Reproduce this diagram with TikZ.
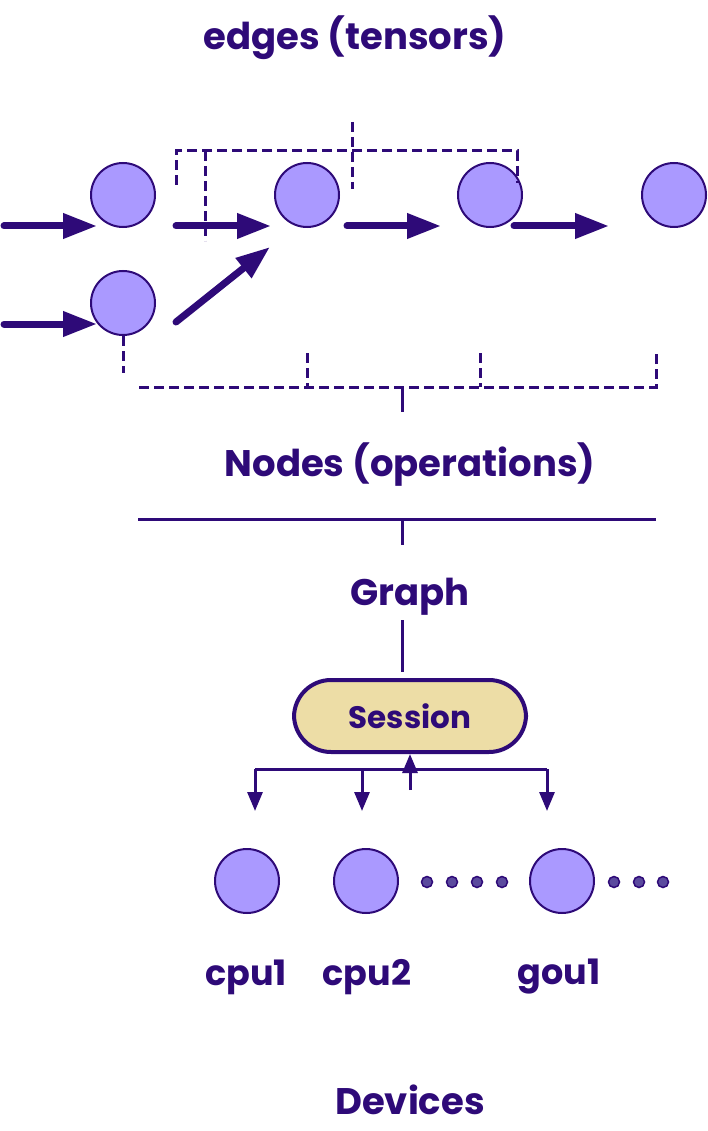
\documentclass[tikz,border=0pt]{standalone}
\usepackage{fontspec}
\setmainfont{Poppins}
\usepackage{tikz}
\usetikzlibrary{arrows.meta}
\definecolor{inkpurple}{HTML}{2E0A78}
\definecolor{opfill}{HTML}{AA99FF}
\definecolor{dotfill}{HTML}{5B4A9E}
\definecolor{sessfill}{HTML}{EDDDA6}

\tikzset{
  op/.style={circle, draw=inkpurple, fill=opfill, line width=2pt, minimum size=64pt, inner sep=0pt},
  more/.style={circle, draw=inkpurple, fill=dotfill, line width=1.5pt, minimum size=11pt, inner sep=0pt},
  flow/.style={inkpurple, line width=7pt, line cap=round, -{Triangle[length=34pt,width=24pt]}},
  feed/.style={inkpurple, line width=3pt, -{Triangle[length=19pt,width=15pt]}},
  bracket/.style={inkpurple, line width=3pt, dash pattern=on 10pt off 5pt},
  tie/.style={inkpurple, line width=3pt},
  lbl/.style={text=inkpurple, font=\bfseries\fontsize{37}{42}\selectfont},
  devlbl/.style={text=inkpurple, font=\bfseries\fontsize{35}{40}\selectfont},
  sessbox/.style={rounded corners=37pt, draw=inkpurple, fill=sessfill, line width=4pt,
    minimum width=232pt, minimum height=72pt, text=inkpurple, font=\bfseries\fontsize{31}{36}\selectfont},
}

\begin{document}
\begin{tikzpicture}[x=1pt,y=-1pt]
\useasboundingbox (0,0) rectangle (708,1131);

% labels
\node[lbl] (edges) at (355,38) {edges (tensors)};
\node[lbl] (ops) at (410,465) {Nodes (operations)};
\node[lbl] (graph) at (410,597) {Graph};
\node[lbl] (devs) at (410,1100) {Devices};

% operations
\node[op] (a1) at (123,195) {};
\node[op] (a2) at (307,195) {};
\node[op] (a3) at (490,195) {};
\node[op] (a4) at (674,195) {};
\node[op] (b1) at (123,303) {};

% tensors
\coordinate (in1) at (4,226);
\coordinate (in2) at (4,324);
\draw[flow] (in1) -- (97,226);
\draw[flow] (in2) -- (97,324);
\draw[flow] (176,226) -- (271,226);
\draw[flow] (347,226) -- (441,226);
\draw[flow] (514,226) -- (609,226);
\draw[flow] (176,322) -- (270,247);

% edges bracket
\draw[bracket] (176,185) -- (176,151) -- (517,151) -- (517,183);
\draw[bracket] (205,151) -- (205,241);
\draw[bracket] (352,122) -- (352,189);

% nodes bracket
\draw[bracket] (b1.south) -- (123,373);
\draw[bracket] (139,387) -- (656,387) -- (656,353);
\draw[bracket] (307,353) -- (307,387);
\draw[bracket] (480,353) -- (480,387);
\draw[tie] (402,387) -- (402,412);

% graph
\draw[tie] (138,519) -- (656,519);
\draw[tie] (402,519) -- (402,545);
\draw[tie] (402,620) -- (402,672);

% session
\node[sessbox] (sess) at (410,716) {Session};
\coordinate (ret) at (410,790);
\draw[feed] (ret) -- (sess.south);
\coordinate (br1) at (255,769);
\coordinate (br2) at (362,769);
\coordinate (br3) at (547,769);
\draw[tie] (br1) -- (br3);

% devices
\node[op] (cpu1) at (247,881) {};
\node[op] (cpu2) at (366,881) {};
\node[op] (gpu1) at (562,881) {};
\foreach \b in {br1,br2,br3}
  \draw[feed] (\b) -- ++(0,42);
\foreach \x [count=\i] in {427,452,477,502,614,639,663}
  \node[more] (dot\i) at (\x,882) {};

\node[devlbl] (cpu1lbl) at (246,977) {cpu1};
\node[devlbl] (cpu2lbl) at (367,977) {cpu2};
\node[devlbl] (gpu1lbl) at (559,977) {gou1};
\end{tikzpicture}
\end{document}
